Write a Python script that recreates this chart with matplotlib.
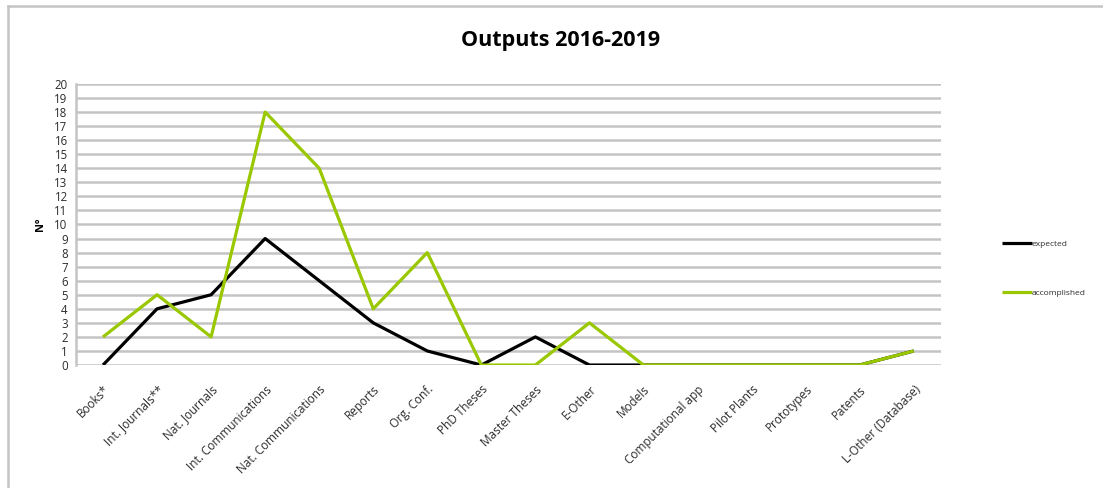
"""
Outputs 2016-2019: expected vs accomplished per output type.
"""

import matplotlib
matplotlib.use('Agg')
import matplotlib.pyplot as plt
from matplotlib.lines import Line2D

categories = ['Books*', 'Int. Journals**', 'Nat. Journals', 'Int. Communications',
              'Nat. Communications', 'Reports', 'Org. Conf.', 'PhD Theses',
              'Master Theses', 'E-Other', 'Models', 'Computational app',
              'Pilot Plants', 'Prototypes', 'Patents', 'L-Other (Database)']
expected = [0, 4, 5, 9, 6, 3, 1, 0, 2, 0, 0, 0, 0, 0, 0, 1]
accomplished = [2, 5, 2, 18, 14, 4, 8, 0, 0, 3, 0, 0, 0, 0, 0, 1]

plt.rcParams['font.family'] = ['Open Sans', 'DejaVu Sans']
grid_col = '#c4c4c4'
green = '#99c800'
txt_col = '#2b2b2b'

fig = plt.figure(figsize=(11.03, 4.88), dpi=100)
ax = fig.add_axes([0.0689, 0.252, 0.784, 0.576])

x = list(range(len(categories)))
ax.plot(x, expected, color='black', lw=2.3, label='expected', solid_capstyle='butt')
ax.plot(x, accomplished, color=green, lw=2.3, label='accomplished', solid_capstyle='butt')

ax.set_xlim(-0.5, len(categories) - 0.5)
ax.set_ylim(0, 20)
ax.set_yticks(range(0, 21))
ax.tick_params(axis='y', length=0, labelsize=8.3, labelcolor=txt_col, pad=6)
ax.set_xticks(x)
ax.set_xticklabels(categories, rotation=45, ha='right', rotation_mode='anchor',
                   fontsize=8.5, color=txt_col)
ax.tick_params(axis='x', length=0, pad=13)
ax.yaxis.grid(True, color=grid_col, lw=1.8)
ax.set_axisbelow(True)
for s in ['top', 'right', 'bottom']:
    ax.spines[s].set_visible(False)
ax.spines['left'].set_color(grid_col)
ax.spines['left'].set_linewidth(1.8)

ax.set_ylabel('Nº', fontsize=8, fontweight='bold', labelpad=6)
fig.text(0.508, 0.918, 'Outputs 2016-2019', ha='center', va='center',
         fontsize=15.5, fontweight='bold')

fig.legend(loc='center left', bbox_to_anchor=(0.902, 0.45), frameon=False,
           fontsize=6, handlelength=3.5, handletextpad=0.05, labelspacing=5.0,
           labelcolor=txt_col)

# chart frame
fig.add_artist(Line2D([0.0075, 0.0075], [0, 0.988], transform=fig.transFigure,
                      color=grid_col, lw=1.8))
fig.add_artist(Line2D([0.0075, 1], [0.988, 0.988], transform=fig.transFigure,
                      color=grid_col, lw=1.8))

plt.savefig('out.png', dpi=100)
